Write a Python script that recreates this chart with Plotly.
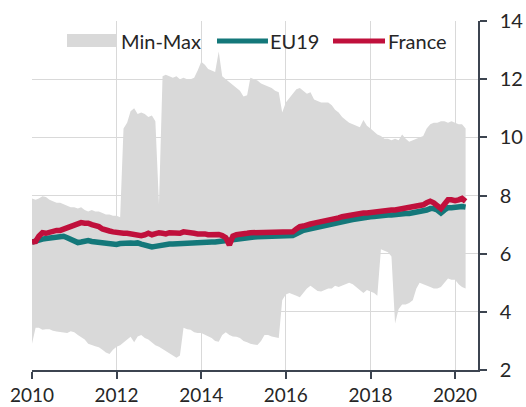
import pandas as pd
import plotly.graph_objects as go

# Monthly observations, Jan 2010 - Apr 2020
start_month = "2010-01-01"
n_months = 124

max_vals = [
    7.9, 7.85, 7.9, 7.97, 7.95, 7.85, 7.8, 7.75, 7.75, 7.7, 7.65, 7.6,
    7.6, 7.55, 7.6, 7.5, 7.45, 7.5, 7.45, 7.45, 7.4, 7.35, 7.35, 7.3,
    7.3, 7.25, 10.3, 10.5, 10.9, 11.0, 10.8, 10.85, 10.8, 10.7, 10.75, 10.55,
    7.7, 12.1, 12.15, 12.1, 12.05, 12.1, 12.0, 12.05, 12.0, 12.0, 12.05, 12.3,
    12.6, 12.5, 12.35, 12.3, 12.25, 12.95, 12.1, 12.0, 11.9, 11.8, 11.7, 11.6,
    11.4, 11.45, 12.05, 12.0, 11.95, 11.85, 11.8, 11.75, 11.7, 11.6, 11.55, 10.85,
    11.2, 11.35, 11.5, 11.65, 11.7, 11.6, 11.5, 11.55, 11.3, 11.25, 11.2, 11.2,
    11.2, 11.1, 10.95, 10.85, 10.7, 10.6, 10.5, 10.45, 10.4, 10.35, 10.6, 10.4,
    10.3, 10.2, 10.1, 10.05, 9.95, 9.95, 9.9, 9.95, 9.9, 10.1, 9.95, 9.85,
    9.9, 9.95, 10.0, 10.05, 10.3, 10.45, 10.5, 10.5, 10.55, 10.55, 10.5, 10.55,
    10.5, 10.45, 10.45, 10.3,
]

min_vals = [
    2.9, 3.45, 3.45, 3.38, 3.4, 3.4, 3.35, 3.32, 3.3, 3.28, 3.27, 3.33,
    3.3, 3.2, 3.12, 3.05, 2.9, 2.85, 2.82, 2.78, 2.7, 2.6, 2.55, 2.7,
    2.8, 2.85, 2.93, 3.05, 3.14, 2.95, 3.15, 3.2, 3.1, 3.05, 2.95, 2.85,
    2.8, 2.75, 2.65, 2.58, 2.5, 2.42, 2.5, 3.45, 3.4, 3.38, 3.3, 3.27,
    3.27, 3.2, 3.15, 3.1, 3.0, 2.97, 3.2, 3.3, 3.2, 3.15, 3.14, 3.1,
    3.0, 2.95, 2.9, 2.88, 2.86, 3.0, 3.2, 3.2, 3.15, 3.12, 3.1, 4.4,
    4.6, 4.65, 4.6, 4.55, 4.5, 4.65, 4.8, 4.9, 4.8, 4.72, 4.7, 4.75,
    4.8, 4.8, 4.9, 4.85, 4.9, 4.95, 5.0, 4.95, 4.85, 4.75, 4.65, 4.75,
    4.7, 4.65, 4.55, 6.15, 6.1, 6.05, 5.9, 3.6, 4.1, 4.25, 4.25, 4.3,
    4.4, 4.8, 5.0, 4.95, 4.9, 4.85, 4.8, 4.8, 4.85, 5.0, 5.15, 5.1,
    5.1, 4.95, 4.85, 4.8,
]

eu19_vals = [
    6.4, 6.45, 6.5, 6.5, 6.52, 6.53, 6.55, 6.55, 6.58, 6.6, 6.55, 6.5,
    6.45, 6.38, 6.4, 6.45, 6.45, 6.42, 6.4, 6.42, 6.38, 6.35, 6.32, 6.3,
    6.32, 6.35, 6.37, 6.38, 6.37, 6.36, 6.37, 6.33, 6.3, 6.26, 6.23, 6.25,
    6.28, 6.3, 6.32, 6.33, 6.33, 6.34, 6.35, 6.35, 6.34, 6.35, 6.36, 6.37,
    6.38, 6.38, 6.39, 6.4, 6.4, 6.42, 6.43, 6.45, 6.45, 6.47, 6.48, 6.5,
    6.52, 6.55, 6.55, 6.57, 6.58, 6.58, 6.6, 6.6, 6.6, 6.6, 6.6, 6.6,
    6.6, 6.6, 6.62, 6.68, 6.75, 6.8, 6.83, 6.86, 6.9, 6.92, 6.95, 6.98,
    7.0, 7.03, 7.06, 7.08, 7.1, 7.13, 7.15, 7.17, 7.2, 7.22, 7.24, 7.25,
    7.27, 7.28, 7.3, 7.3, 7.32, 7.33, 7.33, 7.35, 7.35, 7.37, 7.38, 7.38,
    7.4, 7.42, 7.45, 7.48, 7.5, 7.55, 7.55, 7.5, 7.4, 7.5, 7.58, 7.58,
    7.6, 7.6, 7.62, 7.6,
]

france_vals = [
    6.4, 6.42, 6.6, 6.72, 6.7, 6.75, 6.75, 6.8, 6.8, 6.85, 6.9, 6.95,
    7.0, 7.05, 7.07, 7.05, 7.05, 7.0, 6.98, 6.93, 6.85, 6.8, 6.78, 6.75,
    6.72, 6.72, 6.7, 6.7, 6.68, 6.65, 6.62, 6.62, 6.65, 6.7, 6.65, 6.7,
    6.72, 6.7, 6.68, 6.72, 6.7, 6.68, 6.7, 6.75, 6.72, 6.7, 6.7, 6.68,
    6.7, 6.68, 6.65, 6.66, 6.64, 6.66, 6.62, 6.55, 6.3, 6.6, 6.65, 6.68,
    6.7, 6.7, 6.72, 6.72, 6.74, 6.75, 6.75, 6.76, 6.74, 6.75, 6.72, 6.73,
    6.72, 6.75, 6.75, 6.85, 6.93, 6.95, 7.0, 7.02, 7.05, 7.07, 7.1, 7.12,
    7.15, 7.17, 7.2, 7.23, 7.27, 7.3, 7.33, 7.35, 7.37, 7.38, 7.4, 7.4,
    7.42, 7.44, 7.45, 7.47, 7.48, 7.48, 7.5, 7.5, 7.52, 7.55, 7.55, 7.57,
    7.6, 7.62, 7.65, 7.68, 7.75, 7.8, 7.75, 7.65, 7.55, 7.7, 7.85, 7.85,
    7.82, 7.85, 7.9, 7.8,
]

legend_labels = ["Min-Max", "EU19", "France"]
y_ticks = [2, 4, 6, 8, 10, 12, 14]

dates = list(pd.date_range(start_month, periods=n_months, freq="MS"))

GRAY = "#D9D9D9"
TEAL = "#14787A"
RED = "#C0103C"
AXIS = "#3C4450"
TXT = "#262626"
FONT = "Lato"

fig = go.Figure()

# Min-Max band (polygon: max forward, min backward)
fig.add_trace(go.Scatter(
    x=dates + dates[::-1],
    y=max_vals + min_vals[::-1],
    fill="toself", fillcolor=GRAY, mode="lines",
    line=dict(width=0, color=GRAY), name=legend_labels[0],
    hoverinfo="skip", showlegend=False,
))
fig.add_trace(go.Scatter(
    x=dates, y=eu19_vals, mode="lines", name=legend_labels[1],
    line=dict(color=TEAL, width=5.5), showlegend=False,
))
fig.add_trace(go.Scatter(
    x=dates, y=france_vals, mode="lines", name=legend_labels[2],
    line=dict(color=RED, width=5.5), showlegend=False,
))

# Legend drawn inside the plot, top
leg_y = 0.9427
fig.add_shape(type="rect", xref="paper", yref="paper",
              x0=0.0785, x1=0.1906, y0=0.9255, y1=0.9628,
              fillcolor=GRAY, line=dict(width=0), layer="above")
fig.add_shape(type="line", xref="paper", yref="paper",
              x0=0.4148, x1=0.5291, y0=leg_y, y1=leg_y,
              line=dict(color=TEAL, width=5), layer="above")
fig.add_shape(type="line", xref="paper", yref="paper",
              x0=0.6749, x1=0.7915, y0=leg_y, y1=leg_y,
              line=dict(color=RED, width=5), layer="above")
for xpos, label in zip([0.1950, 0.5300, 0.7930], legend_labels):
    fig.add_annotation(x=xpos, y=leg_y, xref="paper", yref="paper",
                       text=label, showarrow=False, xanchor="left",
                       yanchor="middle", font=dict(family=FONT, size=20, color=TXT))

fig.update_layout(
    width=526, height=407,
    margin=dict(l=32, r=48, t=21, b=37, autoexpand=False),
    paper_bgcolor="white", plot_bgcolor="white",
    font=dict(family=FONT, size=20, color=TXT),
    showlegend=False,
)
fig.update_xaxes(
    type="date",
    range=["2010-01-01", "2020-07-17"],
    tick0="2010-01-01", dtick="M24", tickformat="%Y",
    showgrid=True, gridcolor=GRAY, gridwidth=1,
    showline=True, linecolor=AXIS, linewidth=1.5,
    ticks="outside", ticklen=7, tickcolor=AXIS, tickwidth=1.5,
    ticklabelstandoff=0, automargin=False,
    tickfont=dict(family=FONT, size=19, color=TXT),
    zeroline=False,
)
fig.update_yaxes(
    range=[2, 14], tickvals=y_ticks, side="right",
    showgrid=True, gridcolor=GRAY, gridwidth=1,
    showline=True, linecolor=AXIS, linewidth=1.5,
    ticks="outside", ticklen=7, tickcolor=AXIS, tickwidth=1.5,
    ticklabelstandoff=9, automargin=False,
    zeroline=False,
)

fig.write_html(
    "out.html",
    config={"displayModeBar": False},
    post_script="document.body.style.margin='0';document.body.style.overflow='hidden';",
)
